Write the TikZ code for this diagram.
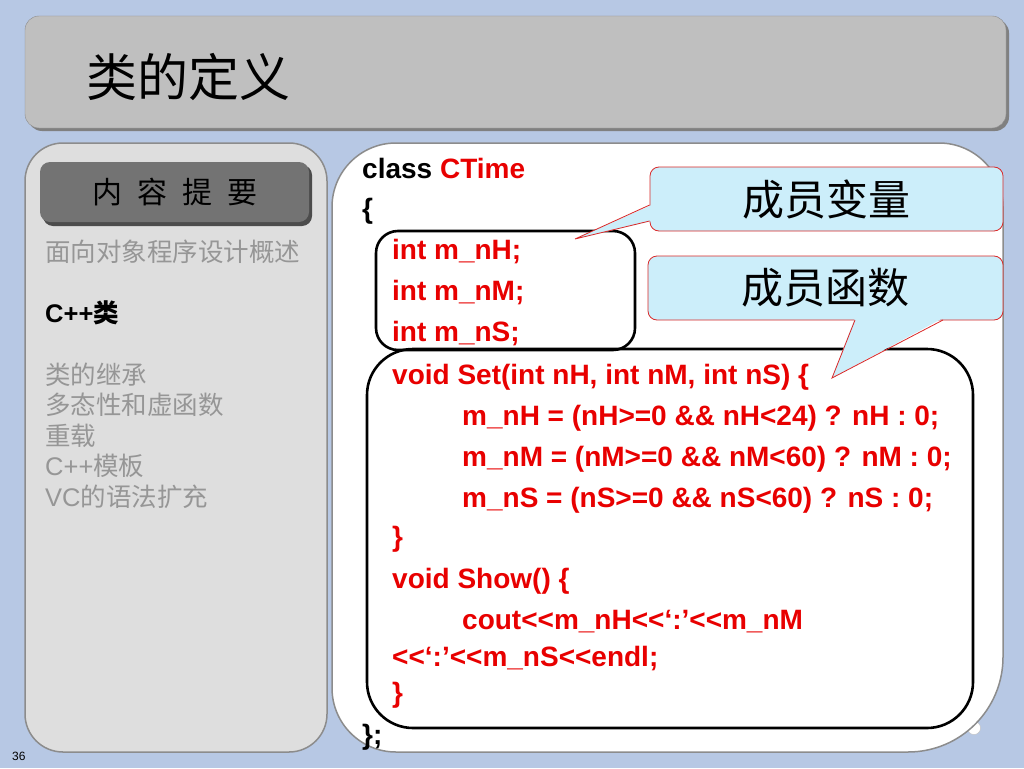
\documentclass[tikz,border=0pt]{standalone}
\usepackage{fontspec}
\newfontfamily\codefont{Liberation Sans}
\newfontfamily\cjk{Noto Sans CJK SC}
\usetikzlibrary{positioning}
\definecolor{slidebg}{RGB}{183,200,228}
\definecolor{codered}{RGB}{232,0,0}
\definecolor{tipfill}{RGB}{204,238,250}
\definecolor{tipline}{RGB}{218,40,40}
\definecolor{listgray}{RGB}{150,150,150}

\begin{document}
\begin{tikzpicture}[x=1pt,y=-1pt]
\tikzstyle{panel}=[draw=black!45, line width=1.5pt]
\tikzstyle{code}=[anchor=base west, inner sep=0pt, text=codered, font=\codefont\bfseries\fontsize{28}{30}\selectfont]
\tikzstyle{item}=[anchor=base west, inner sep=0pt, text=listgray, font=\fontsize{25.5}{27}\selectfont]
\tikzstyle{codebox}=[rectangle, draw=black, line width=2.6pt, inner sep=0pt]
\tikzstyle{tip}=[rectangle, rounded corners=9, fill=tipfill, draw=tipline, line width=0.8pt, minimum height=64pt, inner sep=0pt, font=\cjk\fontsize{42}{44}\selectfont]
  % background
  \fill[slidebg] (0,0) rectangle (1024,768);
  \useasboundingbox (0,0) rectangle (1024,768);
  % title bar
  \fill[black!50, rounded corners=14] (28,19) rectangle (1009,131);
  \fill[black!25, rounded corners=14, draw=black!45] (25,16) rectangle (1006,128);
  \node[anchor=west, inner sep=0pt, font=\cjk\fontsize{51}{53}\selectfont] (title) at (86,77) {类的定义};
  % left panel
  \draw[panel, fill=black!13, rounded corners=38] (25,143) rectangle (327,752);
  \fill[black!70, rounded corners=10] (43,165) rectangle (312,226);
  \fill[black!55, rounded corners=10] (40,162) rectangle (309,222);
  \node[inner sep=0pt, font=\cjk\fontsize{30}{32}\selectfont] (outline) at (175,192) {内\,\,\,容\,\,\,提\,\,\,要};
  \node[item] (i1) at (45,261) {\cjk 面向对象程序设计概述};
  \node[item, text=black] (i2) at (45,322) {\codefont\bfseries C++\cjk 类};
  \node[item] (i3) at (45,384) {\cjk 类的继承};
  \node[item] (i4) at (45,414) {\cjk 多态性和虚函数};
  \node[item] (i5) at (45,445) {\cjk 重载};
  \node[item] (i6) at (45,475) {\codefont C++\cjk 模板};
  \node[item] (i7) at (45,506) {\codefont VC\cjk 的语法扩充};
  \node[anchor=base west, inner sep=0pt, font=\codefont\fontsize{12}{14}\selectfont] (page) at (12,760) {36};
  % code panel
  \draw[black!25, fill=white] (974,728) circle (6.5);
  \draw[panel, fill=white] (332,450) [rounded corners=64] -- (332,143) -- (1003,143) -- (1003,450)
    [rounded corners=95] -- (1003,752) -- (700,752) [rounded corners=64] -- (332,752) -- cycle;
  \node[codebox, rounded corners=22, minimum width=259pt, minimum height=119pt] (vars) at (505.5,290.5) {};
  \node[codebox, rounded corners=46, minimum width=606pt, minimum height=379pt] (funcs) at (670,538.5) {};
  \node[code, text=black] (l1) at (362,178) {class \textcolor{codered}{CTime}};
  \node[code, text=black] (l2) at (362,218) {\{};
  \node[code] (l3) at (392,259) {int m\_nH;};
  \node[code] (l4) at (392,300) {int m\_nM;};
  \node[code] (l5) at (392,341) {int m\_nS;};
  \node[code] (l6) at (392,384) {void Set(int nH, int nM, int nS) \{};
  \node[code] (l7) at (462,425) {m\_nH = (nH>=0 \&\& nH<24) ? nH : 0;};
  \node[code] (l8) at (462,466) {m\_nM = (nM>=0 \&\& nM<60) ? nM : 0;};
  \node[code] (l9) at (462,507) {m\_nS = (nS>=0 \&\& nS<60) ? nS : 0;};
  \node[code] (l10) at (392,546) {\}};
  \node[code] (l11) at (392,588) {void Show() \{};
  \node[code] (l12) at (462,629) {cout<<m\_nH<<‘:’<<m\_nM};
  \node[code] (l13) at (392,666) {<<‘:’<<m\_nS<<endl;};
  \node[code] (l14) at (392,702) {\}};
  \node[code, text=black] (l15) at (362,744) {\};};
  % callouts
  \node[tip, minimum width=353pt] (varnote) at (826.5,199) {成员变量};
  \node[tip, minimum width=355pt] (funcnote) at (825.5,288) {成员函数};
  \coordinate (vartip) at (575,239);
  \coordinate (functip) at (832,378);
  \fill[tipfill] ([xshift=2pt]varnote.west |- 0,205) -- (vartip) -- ([xshift=2pt]varnote.west |- 0,221) -- cycle;
  \draw[tipline, line width=0.8pt] (varnote.west |- 0,205) -- (vartip) -- (varnote.west |- 0,221);
  \fill[tipfill] (855,318) -- (functip) -- (943,318) -- cycle;
  \draw[tipline, line width=0.8pt] (855,320) -- (functip) -- (943,320);
\end{tikzpicture}
\end{document}
